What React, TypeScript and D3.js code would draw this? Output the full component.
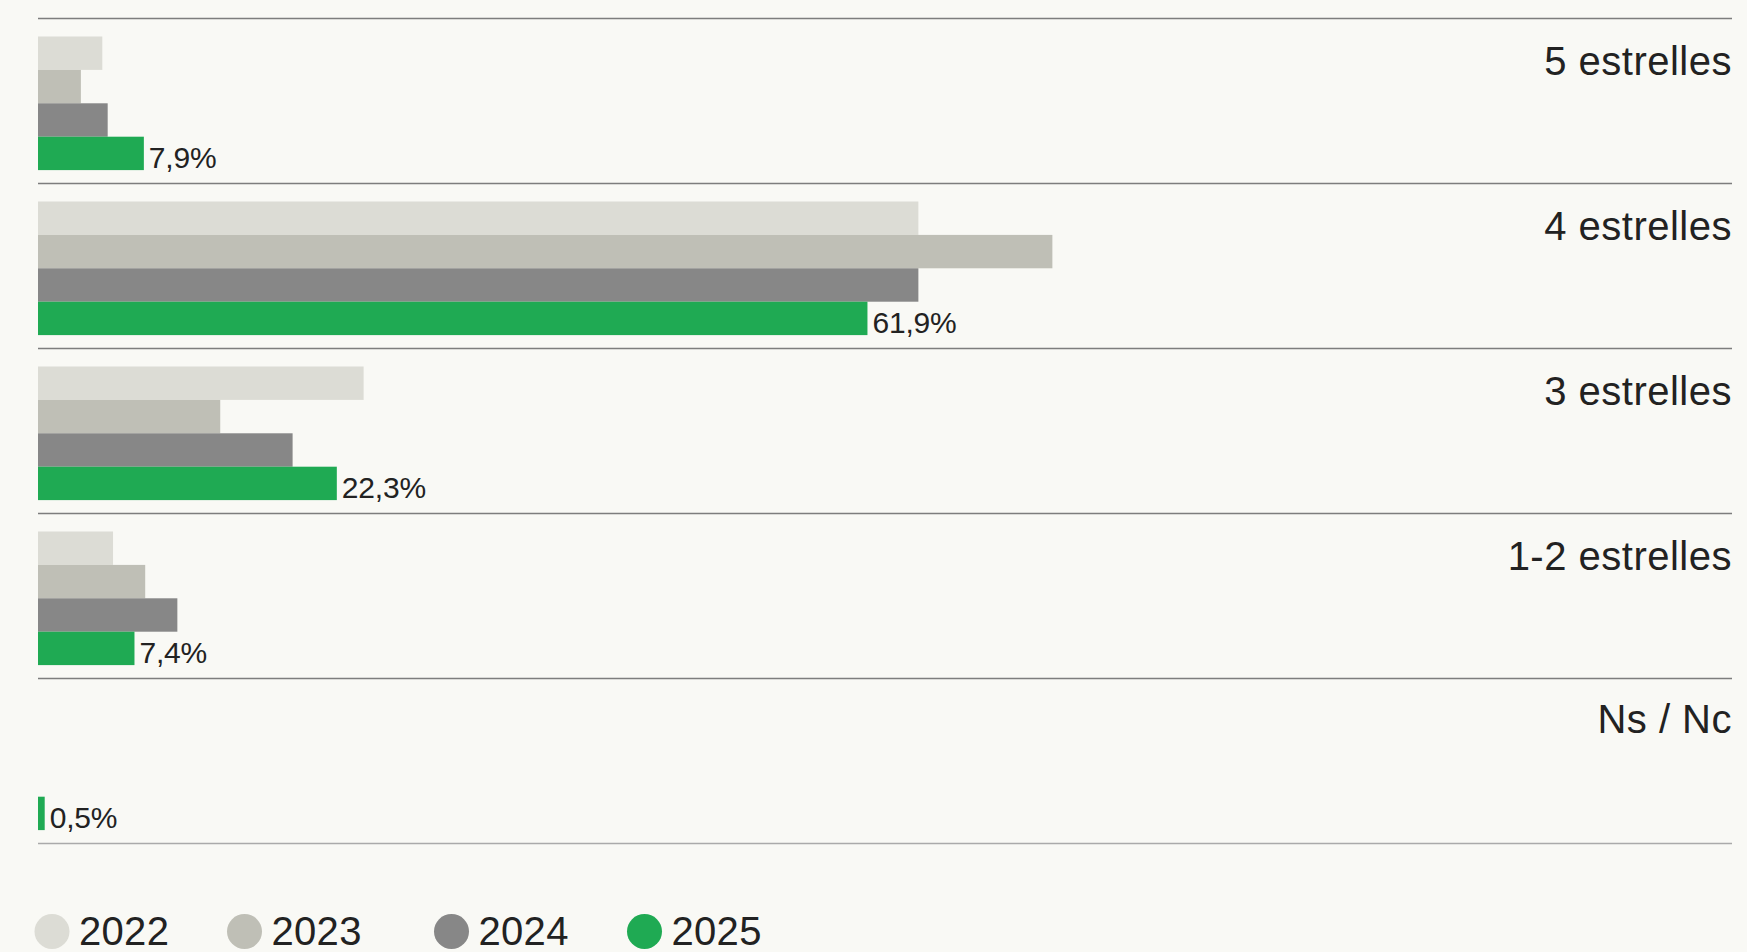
import React from "react";
import * as d3 from "d3";

const categories = ["5 estrelles", "4 estrelles", "3 estrelles", "1-2 estrelles", "Ns / Nc"];
const years = ["2022", "2023", "2024", "2025"];
const values2022 = [4.8, 65.7, 24.3, 5.6, 0];
const values2023 = [3.2, 75.7, 13.6, 8.0, 0];
const values2024 = [5.2, 65.7, 19.0, 10.4, 0];
const values2025 = [7.9, 61.9, 22.3, 7.2, 0.5];
const labels2025 = ["7,9%", "61,9%", "22,3%", "7,4%", "0,5%"];
const colors = ["#dcdcd5", "#bfbfb6", "#878787", "#1faa53"];

const W = 1747;
const H = 952;
const left = 38;
const right = 1732;
const top = 18.5;
const groupH = 165;
const barTop = 18;
const barH = 33.4;
const legendX = [52, 244.5, 451.5, 644.5];
const legendY = 931.5;
const FONT = "'Liberation Sans', Arial, Helvetica, sans-serif";

export default function App() {
  const series = [values2022, values2023, values2024, values2025];
  const x = d3.scaleLinear().domain([0, 100]).range([left, left + 1340]);
  const yGroup = d3
    .scaleBand<string>()
    .domain(categories)
    .range([top, top + groupH * categories.length])
    .paddingInner(0)
    .paddingOuter(0);
  const yBar = d3
    .scaleBand<string>()
    .domain(years)
    .range([barTop, barTop + barH * years.length]);

  return (
    <svg
      width={W}
      height={H}
      style={{ position: "absolute", left: 0, top: 0, display: "block" }}
    >
      <rect width={W} height={H} fill="#f9f9f5" />
      {categories.map((c, ci) => {
        const gy = yGroup(c)!;
        return (
          <g key={c}>
            <line
              x1={left}
              x2={right}
              y1={gy}
              y2={gy}
              stroke="#7d7d7d"
              strokeWidth={1.5}
            />
            {years.map((yr, si) => {
              const v = series[si][ci];
              if (v <= 0) return null;
              return (
                <rect
                  key={yr}
                  x={x(0)}
                  y={gy + yBar(yr)!}
                  width={x(v) - x(0)}
                  height={yBar.bandwidth()}
                  fill={colors[si]}
                />
              );
            })}
            <text
              x={x(values2025[ci]) + 5}
              y={gy + yBar("2025")! + yBar.bandwidth() - 2.5}
              fontFamily={FONT}
              fontSize={30}
              fill="#222"
              letterSpacing={-0.2}
            >
              {labels2025[ci]}
            </text>
            <text
              x={right}
              y={gy + (ci === 4 ? 54 : 56.5)}
              textAnchor="end"
              fontFamily={FONT}
              fontSize={40}
              fill="#222"
              letterSpacing={0.5}
            >
              {c}
            </text>
          </g>
        );
      })}
      <line
        x1={left}
        x2={right}
        y1={top + groupH * categories.length}
        y2={top + groupH * categories.length}
        stroke="#aaaaaa"
        strokeWidth={1.5}
      />
      {years.map((yr, i) => (
        <g key={yr}>
          <circle cx={legendX[i]} cy={legendY} r={17.5} fill={colors[i]} />
          <text
            x={legendX[i] + 27}
            y={legendY + 13.5}
            fontFamily={FONT}
            fontSize={40}
            fill="#222"
            letterSpacing={0.3}
          >
            {yr}
          </text>
        </g>
      ))}
    </svg>
  );
}
